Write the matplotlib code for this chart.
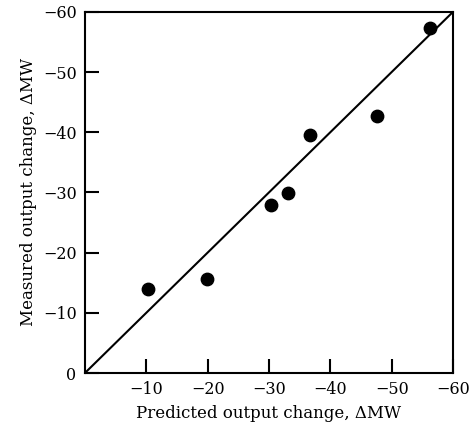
import matplotlib
matplotlib.use("Agg")
import matplotlib.pyplot as plt

# predicted vs measured output change (MW)
predicted = [-10.3, -19.9, -30.3, -33.1, -36.7, -47.6, -56.3]
measured = [-14.0, -15.6, -27.9, -29.9, -39.5, -42.7, -57.3]
line_ends = [0, -60]

x_ticks = [-10, -20, -30, -40, -50, -60]
y_ticks = [0, -10, -20, -30, -40, -50, -60]

plt.rcParams["font.family"] = ["DejaVu Serif"]

fig = plt.figure(figsize=(4.69, 4.22), dpi=100)
ax = fig.add_axes([0.181, 0.116, 0.785, 0.856])

ax.plot(line_ends, line_ends, color="black", linewidth=1.5)
ax.scatter(predicted, measured, s=80, color="black", zorder=3)

ax.set_xlim(0, -60)
ax.set_ylim(0, -60)

ax.set_xticks(x_ticks)
ax.set_yticks(y_ticks)
ax.set_xticklabels([f"\u2212{abs(v)}" for v in x_ticks])
ax.set_yticklabels([f"\u2212{abs(v)}" if v else "0" for v in y_ticks])
ax.tick_params(direction="in", length=10, width=1.5, labelsize=11.5, pad=6)

for sp in ax.spines.values():
    sp.set_linewidth(1.5)

ax.set_xlabel("Predicted output change, \u0394MW", fontsize=12, labelpad=5)
ax.set_ylabel("Measured output change, \u0394MW", fontsize=12, labelpad=4)

fig.savefig("out.png", dpi=100)
